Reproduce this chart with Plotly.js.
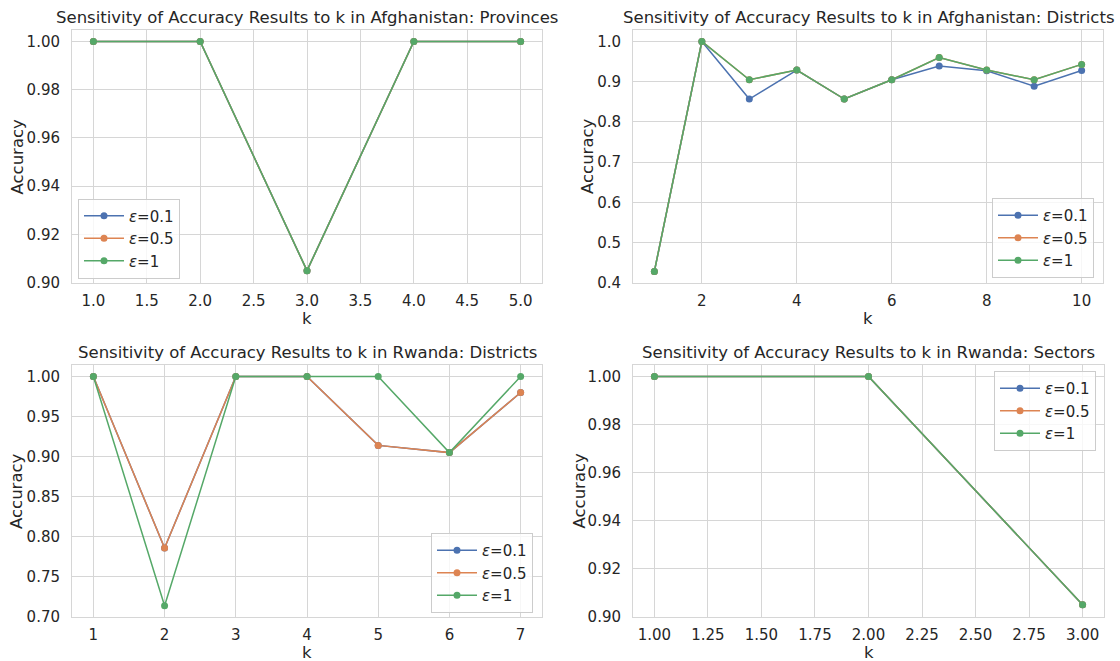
<!DOCTYPE html>
<html>
<head>
<meta charset="utf-8">
<script src="https://cdn.plot.ly/plotly-3.0.1.min.js"></script>
<style>html,body{margin:0;padding:0;background:#fff;}#chart{width:1120px;height:661px;}</style>
</head>
<body>
<div id="chart"></div>
<script>
// ---- data ----
const seriesNames = ["<i>ε</i>=0.1", "<i>ε</i>=0.5", "<i>ε</i>=1"];
const seriesColors = ["#4c72b0", "#dd8452", "#55a868"];

const afgProvK = [1, 2, 3, 4, 5];
const afgProvE01 = [1.0, 1.0, 0.905, 1.0, 1.0];
const afgProvE05 = [1.0, 1.0, 0.905, 1.0, 1.0];
const afgProvE1  = [1.0, 1.0, 0.905, 1.0, 1.0];

const afgDistK = [1, 2, 3, 4, 5, 6, 7, 8, 9, 10];
const afgDistE01 = [0.4286, 1.0, 0.857, 0.929, 0.857, 0.905, 0.939, 0.927, 0.889, 0.928];
const afgDistE05 = [0.4286, 1.0, 0.905, 0.929, 0.857, 0.905, 0.960, 0.929, 0.905, 0.943];
const afgDistE1  = [0.4286, 1.0, 0.905, 0.929, 0.857, 0.905, 0.960, 0.929, 0.905, 0.943];

const rwaDistK = [1, 2, 3, 4, 5, 6, 7];
const rwaDistE01 = [1.0, 0.786, 1.0, 1.0, 0.914, 0.905, 0.980];
const rwaDistE05 = [1.0, 0.786, 1.0, 1.0, 0.914, 0.905, 0.980];
const rwaDistE1  = [1.0, 0.714, 1.0, 1.0, 1.0, 0.905, 1.0];

const rwaSectK = [1, 2, 3];
const rwaSectE01 = [1.0, 1.0, 0.905];
const rwaSectE05 = [1.0, 1.0, 0.905];
const rwaSectE1  = [1.0, 1.0, 0.905];

const panelTitles = [
  "Sensitivity of Accuracy Results to k in Afghanistan: Provinces",
  "Sensitivity of Accuracy Results to k in Afghanistan: Districts",
  "Sensitivity of Accuracy Results to k in Rwanda: Districts",
  "Sensitivity of Accuracy Results to k in Rwanda: Sectors"
];
const xTitle = "k";
const yTitle = "Accuracy";

const panels = [
  {k: afgProvK, ys: [afgProvE01, afgProvE05, afgProvE1]},
  {k: afgDistK, ys: [afgDistE01, afgDistE05, afgDistE1]},
  {k: rwaDistK, ys: [rwaDistE01, rwaDistE05, rwaDistE1]},
  {k: rwaSectK, ys: [rwaSectE01, rwaSectE05, rwaSectE1]}
];

// ---- layout geometry ----
const W = 1120, H = 661;
const px = v => v / W, py = v => 1 - v / H;
const xDom = [[px(72), px(542)], [px(633), px(1103)], [px(72), px(542)], [px(633), px(1104)]];
const yDom = [[py(283), py(30)], [py(283), py(30)], [py(617), py(365)], [py(617), py(365)]];
const xRanges = [[0.8, 5.2], [0.55, 10.45], [0.7, 7.3], [0.9, 3.1]];
const yRanges = [[0.8999, 1.00475], [0.3999, 1.0285], [0.6999, 1.0143], [0.8999, 1.00475]];
const xTicks = [{dtick: 0.5, f: ".1f", t0: 1}, {dtick: 2, f: "d", t0: 2}, {dtick: 1, f: "d", t0: 1}, {dtick: 0.25, f: ".2f", t0: 1}];
const yTicks = [{dtick: 0.02, f: ".2f", t0: 0.9}, {dtick: 0.1, f: ".1f", t0: 0.4}, {dtick: 0.05, f: ".2f", t0: 0.7}, {dtick: 0.02, f: ".2f", t0: 0.9}];
const xTitleY = [318, 318, 652, 652];
const yTitleX = [17, 587.5, 17, 579.5];
const legendPos = [
  {x: px(78), y: py(238.5), xanchor: "left", yanchor: "middle"},
  {x: px(1094), y: py(238), xanchor: "right", yanchor: "middle"},
  {x: px(533), y: py(573), xanchor: "right", yanchor: "middle"},
  {x: px(1096), y: py(411), xanchor: "right", yanchor: "middle"}
];

const textColor = "#262626";
const gridColor = "#d6d6d6";
const font = "DejaVu Sans, sans-serif";

const traces = [];
const layout = {
  width: W, height: H,
  margin: {l: 0, r: 0, t: 0, b: 0},
  paper_bgcolor: "#ffffff",
  plot_bgcolor: "#ffffff",
  font: {family: font, color: textColor, size: 15},
  showlegend: true,
  annotations: []
};

panels.forEach((p, i) => {
  const n = i + 1;
  const xa = n === 1 ? "x" : "x" + n;
  const ya = n === 1 ? "y" : "y" + n;
  const lg = n === 1 ? "legend" : "legend" + n;
  p.ys.forEach((yv, s) => {
    traces.push({
      type: "scatter", mode: "lines+markers",
      x: p.k, y: yv, xaxis: xa, yaxis: ya,
      name: seriesNames[s], legend: lg,
      line: {color: seriesColors[s], width: 1.5},
      marker: {color: seriesColors[s], size: 7},
      showlegend: true
    });
  });
  const axBase = {
    showgrid: true, gridcolor: gridColor, gridwidth: 1,
    showline: true, linecolor: gridColor, linewidth: 1, mirror: true,
    zeroline: false, ticks: "",
    tickfont: {family: font, size: 15, color: textColor}
  };
  layout["xaxis" + (n === 1 ? "" : n)] = Object.assign({}, axBase, {
    domain: xDom[i], anchor: ya, range: xRanges[i], ticklabelstandoff: 4,
    tickmode: "linear", tick0: xTicks[i].t0, dtick: xTicks[i].dtick, tickformat: xTicks[i].f
  });
  layout["yaxis" + (n === 1 ? "" : n)] = Object.assign({}, axBase, {
    domain: yDom[i], anchor: xa, range: yRanges[i], ticklabelstandoff: 8,
    tickmode: "linear", tick0: yTicks[i].t0, dtick: yTicks[i].dtick, tickformat: yTicks[i].f
  });
  layout[lg] = Object.assign({}, legendPos[i], {
    bgcolor: "rgba(255,255,255,0.8)", bordercolor: "#cccccc", borderwidth: 1,
    itemwidth: 40,
    font: {family: font, size: 15, color: textColor}
  });
  const xc = (xDom[i][0] + xDom[i][1]) / 2;
  const yc = (yDom[i][0] + yDom[i][1]) / 2;
  layout.annotations.push({
    text: panelTitles[i], xref: "paper", yref: "paper",
    x: xc, y: yDom[i][1],
    xanchor: "center", yanchor: "bottom", yshift: 1, showarrow: false,
    font: {family: font, size: 16.5, color: textColor}
  });
  layout.annotations.push({
    text: xTitle, xref: "paper", yref: "paper",
    x: xc, y: py(xTitleY[i]),
    xanchor: "center", yanchor: "middle", showarrow: false,
    font: {family: font, size: 16.5, color: textColor}
  });
  layout.annotations.push({
    text: yTitle, xref: "paper", yref: "paper", textangle: -90,
    x: px(yTitleX[i]), y: yc,
    xanchor: "center", yanchor: "middle", showarrow: false,
    font: {family: font, size: 16.5, color: textColor}
  });
});

Plotly.newPlot("chart", traces, layout, {displayModeBar: false, staticPlot: true});
</script>
</body>
</html>
